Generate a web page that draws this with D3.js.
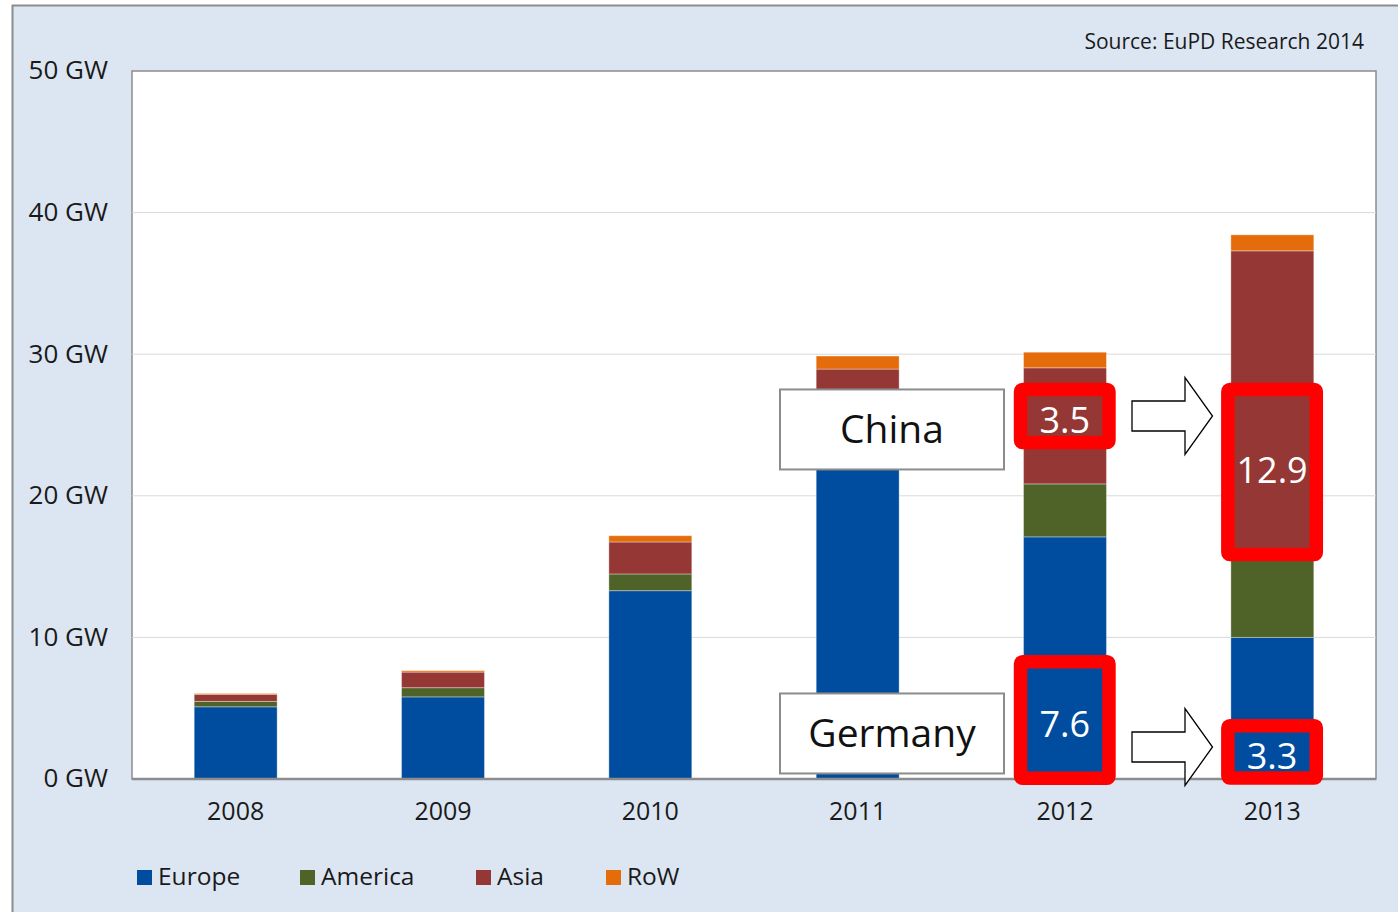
<!DOCTYPE html>
<html>
<head>
<meta charset="utf-8">
<script src="https://cdn.jsdelivr.net/npm/d3@7"></script>
<style>
  html, body { margin: 0; padding: 0; background: #ffffff; }
  svg { display: block; font-family: "Open Sans", "Noto Sans", sans-serif; }
</style>
</head>
<body>
<svg id="chart" width="1398" height="912"></svg>
<script>
// ---- data ----
const years = ["2008", "2009", "2010", "2011", "2012", "2013"];
const seriesNames = ["Europe", "America", "Asia", "RoW"];
const europe  = [5.1, 5.8, 13.3, 22.3, 17.1, 10.0];
const america = [0.38, 0.65, 1.18, 2.5, 3.74, 5.6];
const asia    = [0.5, 1.1, 2.26, 4.15, 8.2, 21.7];
const row     = [0.06, 0.1, 0.44, 0.92, 1.1, 1.13];
const yTicks  = [0, 10, 20, 30, 40, 50];
const sourceText = "Source: EuPD Research 2014";
// highlighted values: [year, label, low GW, high GW]
const highlightYears  = ["2012", "2013", "2012", "2013"];
const highlightLabels = ["3.5", "12.9", "7.6", "3.3"];
const highlightLow    = [23.76, 15.85, 0.05, 0.07];
const highlightHigh   = [27.51, 27.51, 8.28, 3.76];
const calloutLabels   = ["China", "Germany"];

const colors = {Europe: "#004c9e", America: "#4f6228", Asia: "#953735", RoW: "#e46c0a"};

// ---- layout ----
const svg = d3.select("#chart");
const plot = {left: 132, top: 71, right: 1376, bottom: 779};

// outer frame
svg.append("rect").attr("x", 12.5).attr("y", 5.5).attr("width", 1420).attr("height", 940)
  .attr("fill", "#dce6f2").attr("stroke", "#8c8c8c").attr("stroke-width", 2);

// plot area
svg.append("rect").attr("x", plot.left).attr("y", plot.top)
  .attr("width", plot.right - plot.left).attr("height", plot.bottom - plot.top)
  .attr("fill", "#ffffff").attr("stroke", "#8c8c8c").attr("stroke-width", 1.5);

const x = d3.scaleBand().domain(years).range([plot.left, plot.right])
  .paddingInner(0.6).paddingOuter(0.3);
const y = d3.scaleLinear().domain([0, 50]).range([plot.bottom, plot.top]);

// gridlines
svg.append("g").selectAll("line").data(yTicks.filter(t => t > 0 && t < 50)).join("line")
  .attr("x1", plot.left).attr("x2", plot.right)
  .attr("y1", d => y(d)).attr("y2", d => y(d))
  .attr("stroke", "#d9d9d9").attr("stroke-width", 1);

// y axis labels
const yAxis = d3.axisLeft(y).tickValues(yTicks).tickSize(0).tickPadding(0)
  .tickFormat(d => d + " GW");
const gy = svg.append("g").attr("transform", `translate(108,0)`).call(yAxis);
gy.select(".domain").remove();
gy.selectAll("text").attr("font-size", 26).attr("fill", "#1a1a1a")
  .attr("font-family", "'Open Sans', sans-serif").attr("dy", "0.3em");

// stacked bars
const table = years.map((yr, i) => ({year: yr, Europe: europe[i], America: america[i], Asia: asia[i], RoW: row[i]}));
const stack = d3.stack().keys(seriesNames)(table);
svg.append("g").selectAll("g").data(stack).join("g")
  .attr("fill", d => colors[d.key])
  .selectAll("rect").data(d => d).join("rect")
  .attr("x", d => x(d.data.year))
  .attr("width", x.bandwidth())
  .attr("y", d => y(d[1]))
  .attr("height", d => y(d[0]) - y(d[1]))
  .attr("stroke", "rgba(255,255,255,0.35)").attr("stroke-width", 1);

// x axis
const xAxis = d3.axisBottom(x).tickSize(0).tickPadding(0);
const gx = svg.append("g").attr("transform", `translate(0,${plot.bottom})`).call(xAxis);
gx.select(".domain").remove();
gx.selectAll("text").attr("font-size", 25).attr("fill", "#1a1a1a")
  .attr("font-family", "'Open Sans', sans-serif").attr("dy", "1.65em");
svg.append("line").attr("x1", plot.left).attr("x2", plot.right)
  .attr("y1", plot.bottom).attr("y2", plot.bottom)
  .attr("stroke", "#8c8c8c").attr("stroke-width", 2.5);

// callout boxes (China, Germany) on 2011
const calloutCenters = [(y(27.51) + y(21.86)) / 2, (y(6.0) + y(0.43)) / 2];
calloutLabels.forEach((lab, i) => {
  const cy = calloutCenters[i];
  const bx = 780, bw = 224, bh = 80;
  svg.append("rect").attr("x", bx).attr("y", cy - bh / 2).attr("width", bw).attr("height", bh)
    .attr("fill", "#ffffff").attr("stroke", "#8c8c8c").attr("stroke-width", 2);
  svg.append("text").attr("x", bx + bw / 2).attr("y", cy + 13.5)
    .attr("text-anchor", "middle").attr("font-size", 39).attr("fill", "#111")
    .text(lab);
});

// red highlight boxes
highlightLabels.forEach((lab, i) => {
  const yr = highlightYears[i];
  const x0 = x(yr) - 3, x1 = x(yr) + x.bandwidth() + 2.5;
  const y0 = y(highlightHigh[i]), y1 = y(highlightLow[i]);
  svg.append("rect").attr("x", x0).attr("y", y0).attr("width", x1 - x0).attr("height", y1 - y0)
    .attr("fill", "none").attr("stroke", "#ff0000").attr("stroke-width", 13.5)
    .attr("rx", 2).attr("stroke-linejoin", "round");
  const off = (lab === "12.9") ? 11 : 17;
  svg.append("text").attr("x", (x0 + x1) / 2).attr("y", (y0 + y1) / 2 + off)
    .attr("text-anchor", "middle").attr("font-size", 36).attr("fill", "#ffffff")
    .text(lab);
});

// block arrows from 2012 to 2013
const arrowCenters = [416, 747];
arrowCenters.forEach(cy => {
  const sx0 = 1132, sx1 = 1185, tip = 1212.5, sh = 15, hh = 38.5;
  const pts = [[sx0, cy - sh], [sx1, cy - sh], [sx1, cy - hh], [tip, cy], [sx1, cy + hh], [sx1, cy + sh], [sx0, cy + sh]];
  svg.append("path").attr("d", d3.line()(pts) + "Z")
    .attr("fill", "#ffffff").attr("stroke", "#000").attr("stroke-width", 1.3);
});

// source
svg.append("text").attr("x", 1364).attr("y", 48.5).attr("text-anchor", "end")
  .attr("font-size", 21).attr("fill", "#1a1a1a").text(sourceText);

// legend
const legendX = [137, 300, 476, 606];
const lg = svg.append("g");
seriesNames.forEach((s, i) => {
  lg.append("rect").attr("x", legendX[i]).attr("y", 870).attr("width", 15).attr("height", 15)
    .attr("fill", colors[s]);
  lg.append("text").attr("x", legendX[i] + 21).attr("y", 885).attr("font-size", 24.5)
    .attr("fill", "#1a1a1a").text(s);
});
</script>
</body>
</html>
